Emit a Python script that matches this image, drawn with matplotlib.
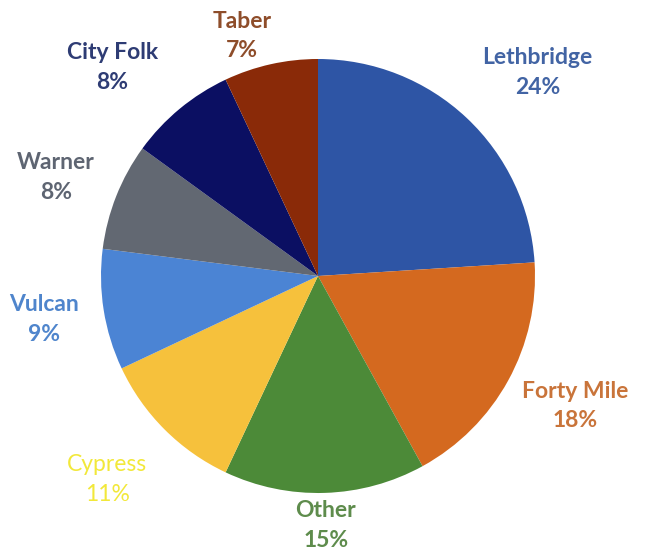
import numpy as np
import matplotlib
matplotlib.use('Agg')
import matplotlib.pyplot as plt

# slice data, clockwise from 12 o'clock
names = ['Lethbridge', 'Forty Mile', 'Other', 'Cypress', 'Vulcan', 'Warner', 'City Folk', 'Taber']
shares = [24, 18, 15, 11, 9, 8, 8, 7]

wedge_colors = ['#2E55A5', '#D4691F', '#4C8A38', '#F6C13C', '#4B84D4', '#626872', '#0B0F62', '#8A2A08']
text_colors = ['#4264A4', '#C9743A', '#5E8C4C', '#F2E83A', '#4F85CC', '#5E6572', '#2E3C74', '#8E4D2A']
label_dist = [1.38, 1.33, 1.15, 1.35, 1.28, 1.29, 1.35, 1.16]
label_rot = [-4, 2, 0, -1, 0, 1, 5, 5]  # small angular nudges in degrees

fig = plt.figure(figsize=(6.51, 5.5), dpi=100)
ax = fig.add_axes([0, 0, 1, 1])

wedges, _ = ax.pie(shares, colors=wedge_colors, startangle=90, counterclock=False,
                   radius=1.0, wedgeprops=dict(linewidth=0))

for w, name, pct, tc, d, rot in zip(wedges, names, shares, text_colors, label_dist, label_rot):
    ang = np.deg2rad((w.theta1 + w.theta2) / 2 + rot)
    x, y = d * np.cos(ang), d * np.sin(ang)
    weight = 'normal' if name == 'Cypress' else 'bold'
    ax.text(x, y, '%s\n%d%%' % (name, pct), ha='center', va='center', color=tc,
            fontsize=16.5, fontweight=weight, family=['Lato', 'DejaVu Sans'],
            linespacing=1.5)

ax.set_xlim(-318 / 217, (651 - 318) / 217)
ax.set_ylim(-(550 - 276) / 217, 276 / 217)
ax.axis('off')

fig.savefig('out.png', dpi=100)
